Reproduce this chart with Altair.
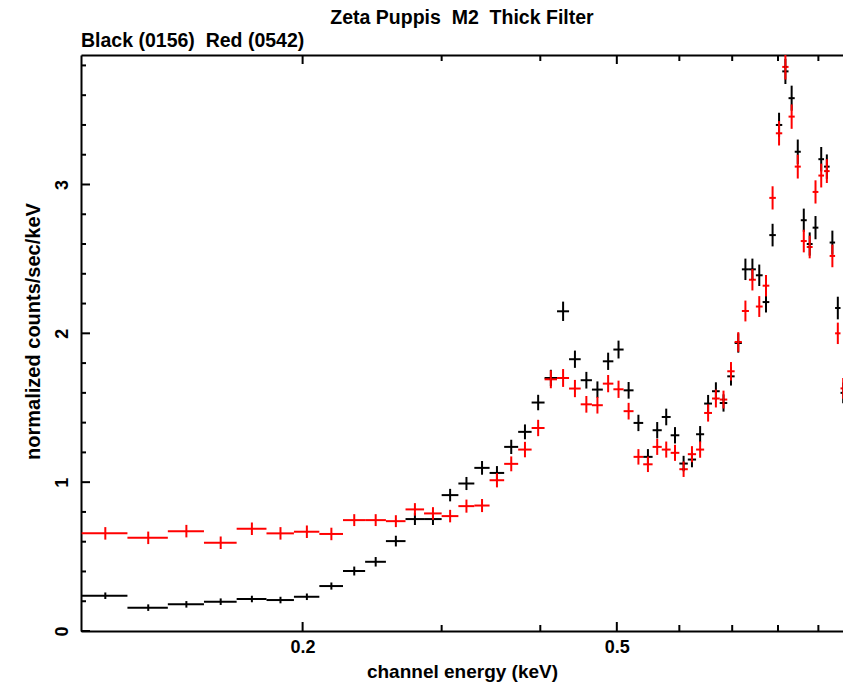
import altair as alt
import pandas as pd

# channel energy bin centres (keV), 0.015 keV wide bins
energy = [0.1125, 0.1275, 0.1425, 0.1575, 0.1725, 0.1875, 0.2025, 0.2175,
          0.2325, 0.2475, 0.2625, 0.2775, 0.2925, 0.3075, 0.3225, 0.3375,
          0.3525, 0.3675, 0.3825, 0.3975, 0.4125, 0.4275, 0.4425, 0.4575,
          0.4725, 0.4875, 0.5025, 0.5175, 0.5325, 0.5475, 0.5625, 0.5775,
          0.5925, 0.6075, 0.6225, 0.6375, 0.6525, 0.6675, 0.6825, 0.6975,
          0.7125, 0.7275, 0.7425, 0.7575, 0.7725, 0.7875, 0.8025, 0.8175,
          0.8325, 0.8475, 0.8625, 0.8775, 0.8925, 0.9075, 0.9225, 0.9375,
          0.9525, 0.9675]
bin_half = 0.0075

black = [0.237, 0.157, 0.179, 0.197, 0.215, 0.208, 0.230, 0.302,
         0.403, 0.465, 0.604, 0.752, 0.752, 0.913, 0.991, 1.096,
         1.062, 1.237, 1.338, 1.535, 1.700, 2.148, 1.826, 1.685,
         1.622, 1.812, 1.891, 1.617, 1.398, 1.170, 1.349, 1.438,
         1.315, 1.125, 1.152, 1.322, 1.528, 1.611, 1.532, 1.711,
         1.935, 2.430, 2.430, 2.390, 2.210, 2.660, 3.400, 3.760,
         3.580, 3.220, 2.760, 2.600, 2.710, 3.170, 3.120, 2.610,
         2.170, 1.600]
black_err = [0.022, 0.022, 0.022, 0.022, 0.022, 0.022, 0.022, 0.024,
             0.030, 0.032, 0.036, 0.040, 0.040, 0.042, 0.044, 0.046,
             0.046, 0.048, 0.050, 0.052, 0.055, 0.065, 0.058, 0.056,
             0.055, 0.058, 0.060, 0.056, 0.055, 0.052, 0.055, 0.056,
             0.055, 0.052, 0.052, 0.055, 0.058, 0.060, 0.058, 0.062,
             0.065, 0.072, 0.072, 0.072, 0.070, 0.076, 0.082, 0.085,
             0.084, 0.082, 0.078, 0.078, 0.078, 0.082, 0.082, 0.080,
             0.076, 0.070]

red = [0.656, 0.626, 0.671, 0.593, 0.687, 0.656, 0.667, 0.652,
       0.745, 0.745, 0.738, 0.817, 0.790, 0.772, 0.839, 0.843,
       1.013, 1.123, 1.219, 1.364, 1.691, 1.700, 1.629, 1.523,
       1.517, 1.662, 1.624, 1.477, 1.170, 1.120, 1.237, 1.219,
       1.197, 1.087, 1.188, 1.219, 1.465, 1.562, 1.555, 1.745,
       1.942, 2.150, 2.360, 2.180, 2.320, 2.910, 3.344, 3.790,
       3.456, 3.120, 2.620, 2.580, 2.950, 3.060, 3.090, 2.520,
       2.000, 1.630]
red_err = [0.042, 0.042, 0.042, 0.042, 0.042, 0.042, 0.042, 0.042,
           0.040, 0.040, 0.040, 0.042, 0.042, 0.042, 0.044, 0.044,
           0.048, 0.050, 0.052, 0.055, 0.060, 0.060, 0.058, 0.056,
           0.056, 0.058, 0.058, 0.056, 0.052, 0.052, 0.054, 0.054,
           0.054, 0.052, 0.054, 0.055, 0.058, 0.060, 0.060, 0.062,
           0.066, 0.070, 0.072, 0.070, 0.072, 0.078, 0.082, 0.085,
           0.082, 0.080, 0.076, 0.076, 0.078, 0.080, 0.080, 0.076,
           0.072, 0.070]

x_major = [0.2, 0.5]
x_minor = [0.3, 0.4, 0.6, 0.7, 0.8, 0.9]
y_major = [0, 1, 2, 3]
y_minor = [0.2, 0.4, 0.6, 0.8, 1.2, 1.4, 1.6, 1.8, 2.2, 2.4, 2.6, 2.8,
           3.2, 3.4, 3.6, 3.8]

NB = "\u00a0"
title_text = "Zeta Puppis" + NB * 2 + "M2" + NB * 2 + "Thick Filter"
sub_text = "Black (0156)" + NB * 2 + "Red (0542)"
x_title = "channel energy (keV)"
y_title = "normalized counts/sec/keV"

rows = []
for name, vals, errs in (("black", black, black_err), ("red", red, red_err)):
    for e, v, s in zip(energy, vals, errs):
        rows.append({"series": name, "E": e, "lo": e - bin_half, "hi": e + bin_half,
                     "y": v, "ylo": v - s, "yhi": v + s})
df = pd.DataFrame(rows)

W, H = 762, 576
FONT = "Liberation Sans"
xs = alt.Scale(type="log", domain=[0.1048, 0.967], nice=False)
ys = alt.Scale(domain=[0, 3.87], nice=False, zero=False)
cscale = alt.Scale(domain=["black", "red"], range=["#000000", "#ff0000"])

x_axis = alt.Axis(values=x_major, format=".1f", ticks=False, domain=True, domainColor="black",
                  domainWidth=2, labelFontSize=18, labelFont=FONT, labelFontWeight="bold",
                  labelPadding=7, labelColor="black", title=x_title, titleFont=FONT,
                  titleFontSize=19, titleFontWeight="bold", titleBaseline="alphabetic",
                  titleY=46, titleColor="black", grid=False)
y_axis = alt.Axis(values=y_major, format="d", ticks=False, domain=True, domainColor="black",
                  domainWidth=2, labelFontSize=18, labelFont=FONT, labelFontWeight="bold",
                  labelAngle=270, labelAlign="center", labelBaseline="bottom",
                  labelPadding=10, labelColor="black", title=y_title, titleFont=FONT,
                  titleFontSize=20, titleFontWeight="bold", titleBaseline="middle",
                  titleX=-48, titleY=276, titleAngle=270, titleColor="black", grid=False)
top_axis = alt.Axis(orient="top", labels=False, ticks=False, domain=True, domainColor="black",
                    domainWidth=2, title=None, grid=False)

base = alt.Chart(df)

hbar = base.mark_rule(strokeWidth=2, clip=True).encode(
    x=alt.X("lo:Q", scale=xs, axis=x_axis),
    x2="hi:Q",
    y=alt.Y("y:Q", scale=ys, axis=y_axis),
    color=alt.Color("series:N", scale=cscale, legend=None),
)
vbar = base.mark_rule(strokeWidth=2, clip=True).encode(
    x=alt.X("E:Q", scale=xs, axis=None),
    y=alt.Y("ylo:Q", scale=ys),
    y2="yhi:Q",
    color=alt.Color("series:N", scale=cscale, legend=None),
)

xmaj = pd.DataFrame({"t": x_major})
xmin = pd.DataFrame({"t": x_minor})
ymaj = pd.DataFrame({"t": y_major})
ymin = pd.DataFrame({"t": y_minor})

top_ticks_maj = alt.Chart(xmaj).mark_rule(strokeWidth=2, color="black").encode(
    x=alt.X("t:Q", scale=xs, axis=top_axis), y=alt.value(0), y2=alt.value(9))
top_ticks_min = alt.Chart(xmin).mark_rule(strokeWidth=2, color="black").encode(
    x=alt.X("t:Q", scale=xs, axis=None), y=alt.value(0), y2=alt.value(6))
bot_ticks_maj = alt.Chart(xmaj).mark_rule(strokeWidth=2, color="black").encode(
    x=alt.X("t:Q", scale=xs, axis=None), y=alt.value(H), y2=alt.value(H - 9))
bot_ticks_min = alt.Chart(xmin).mark_rule(strokeWidth=2, color="black").encode(
    x=alt.X("t:Q", scale=xs, axis=None), y=alt.value(H), y2=alt.value(H - 6))
left_ticks_maj = alt.Chart(ymaj).mark_rule(strokeWidth=2, color="black").encode(
    y=alt.Y("t:Q", scale=ys), x=alt.value(0), x2=alt.value(9))
left_ticks_min = alt.Chart(ymin).mark_rule(strokeWidth=2, color="black").encode(
    y=alt.Y("t:Q", scale=ys), x=alt.value(0), x2=alt.value(5))

txt = pd.DataFrame({"s": [sub_text], "t": [title_text]})
sub = alt.Chart(txt).mark_text(
    align="left", baseline="alphabetic", font=FONT, fontSize=19.5, fontWeight="bold",
    color="black").encode(x=alt.value(0), y=alt.value(-8), text="s:N")
ttl = alt.Chart(txt).mark_text(
    align="center", baseline="alphabetic", font=FONT, fontSize=19.5, fontWeight="bold",
    color="black").encode(x=alt.value(W / 2), y=alt.value(-31), text="t:N")

chart = alt.layer(
    hbar, vbar, top_ticks_maj, top_ticks_min, bot_ticks_maj, bot_ticks_min,
    left_ticks_maj, left_ticks_min, sub, ttl,
).resolve_axis(x="independent").properties(
    width=W, height=H,
    autosize=alt.AutoSizeParams(type="none"),
    padding={"left": 81, "top": 55, "right": 0, "bottom": 51},
).configure_view(stroke=None).configure(background="white")

chart.save("out.html", embed_options={"renderer": "svg", "actions": False})
